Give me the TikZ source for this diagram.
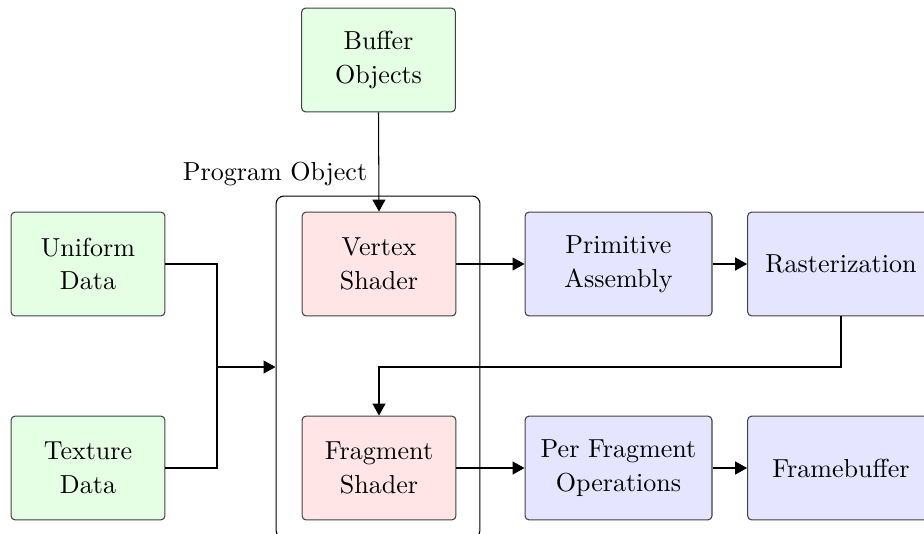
\documentclass[tikz,border=0pt]{standalone}
\usetikzlibrary{arrows.meta}
\begin{document}
\begin{tikzpicture}[x=0.384pt,y=-0.384pt,
  box/.style={draw=black!75, rounded corners=1.6pt, align=center, inner sep=0pt,
    minimum height=39.9pt, font=\fontsize{10pt}{13pt}\selectfont},
  datab/.style={box, fill=green!10, minimum width=59.1pt},
  shaderb/.style={box, fill=red!10, minimum width=59.1pt},
  stageb/.style={box, fill=blue!10, minimum width=71.8pt},
  stagew/.style={box, fill=blue!10, minimum width=71.7pt},
  conn/.style={draw=black, line width=0.4pt, -{Triangle[length=4.6pt,width=5pt]}},
  wire/.style={draw=black, line width=0.4pt}]
\useasboundingbox (0,0) rectangle (924,533);

% program object container
\node[draw=black, rounded corners=3pt, minimum width=78.3pt, minimum height=131.3pt, inner sep=0pt]
  (prog) at (378,367) {};
\node (proglabel) at (275,174) {Program Object};

% inputs
\node[datab] (buf) at (378.5,60) {Buffer\\Objects};
\node[datab] (uni) at (88,264) {Uniform\\Data};
\node[datab] (tex) at (88,468) {Texture\\Data};

% shaders
\node[shaderb] (vs) at (379,264) {Vertex\\Shader};
\node[shaderb] (fs) at (379,468) {Fragment\\Shader};

% fixed stages
\node[stageb] (pa) at (618.5,264) {Primitive\\Assembly};
\node[stagew] (ra) at (841,264) {Rasterization};
\node[stageb] (pf) at (618.5,468) {Per Fragment\\Operations};
\node[stagew] (fb) at (841,468) {Framebuffer};

% connectors
\coordinate (join) at (217,367);
\coordinate (turn) at (841,367);
\draw[wire] (uni.east) -| (join);
\draw[wire] (tex.east) -| (join);
\draw[conn] (join) -- (prog.west);
\draw[conn] (buf.south) -- (vs.north);
\draw[conn] (vs.east) -- (pa.west);
\draw[conn] (pa.east) -- (ra.west);
\draw[conn] (ra.south) -- (turn) -| (fs.north);
\draw[conn] (fs.east) -- (pf.west);
\draw[conn] (pf.east) -- (fb.west);
\end{tikzpicture}
\end{document}
